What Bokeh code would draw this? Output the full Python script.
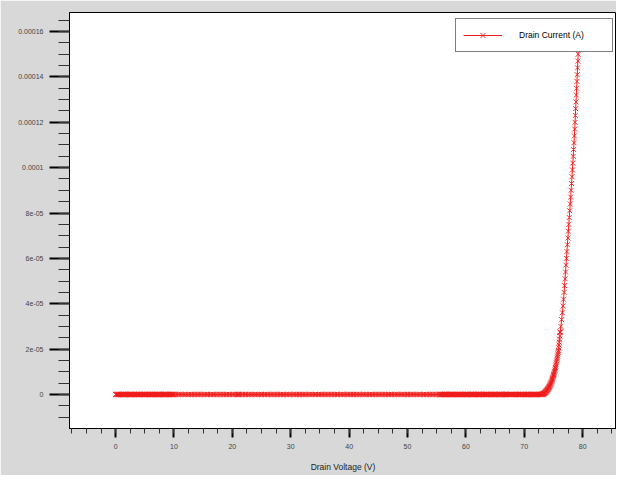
from bokeh.plotting import figure
from bokeh.models import (SingleIntervalTicker, CustomJSTickFormatter, Legend,
                          LegendItem, Range1d)
from bokeh.embed import file_html
from bokeh.resources import INLINE

# ---------------- data ----------------
# Drain voltage sweep (V) where the drain current stays at 0 A
flat_voltage_a = [
    0.0, 0.1, 0.2, 0.3, 0.4, 0.5, 0.6, 0.7, 0.8, 0.9,
    1.0, 1.1, 1.2, 1.3, 1.4, 1.5, 1.6, 1.7, 1.8, 1.9,
    2.0, 2.1, 2.2, 2.3, 2.4, 2.5, 2.6, 2.7, 2.8, 2.9,
    3.0, 3.1, 3.2, 3.3, 3.4, 3.5, 3.6, 3.7, 3.8, 3.9,
    4.0, 4.1, 4.2, 4.3, 4.4, 4.5, 4.6, 4.7, 4.8, 4.9,
    5.0, 5.1, 5.2, 5.3, 5.4, 5.5, 5.6, 5.7, 5.8, 5.9,
    6.0, 6.1, 6.2, 6.3, 6.4, 6.5, 6.6, 6.7, 6.8, 6.9,
    7.0, 7.1, 7.2, 7.3, 7.4, 7.5, 7.6, 7.7, 7.8, 7.9,
    8.0, 8.1, 8.2, 8.3, 8.4, 8.5, 8.6, 8.7, 8.8, 8.9,
    9.0, 9.1, 9.2, 9.3, 9.4, 9.5, 9.6, 9.7, 9.8, 9.9,
    10.0,
]
flat_voltage_b = [
    10.25, 10.5, 10.75, 11.0, 11.25, 11.5, 11.75, 12.0, 12.25, 12.5, 12.75,
    13.0, 13.25, 13.5, 13.75, 14.0, 14.25, 14.5, 14.75, 15.0, 15.25, 15.5, 15.75,
    16.0, 16.25, 16.5, 16.75, 17.0, 17.25, 17.5, 17.75, 18.0, 18.25, 18.5, 18.75,
    19.0, 19.25, 19.5, 19.75, 20.0, 20.25, 20.5, 20.75, 20.95, 21.0, 21.0, 21.05,
    21.25, 21.5, 21.75, 22.0, 22.25, 22.5, 22.75, 23.0, 23.25, 23.5, 23.75,
    24.0, 24.25, 24.5, 24.75, 25.0, 25.25, 25.5, 25.75, 26.0, 26.25, 26.5, 26.75,
    27.0, 27.25, 27.5, 27.75, 28.0, 28.25, 28.5, 28.75, 29.0, 29.25, 29.5, 29.75,
    30.0, 30.25, 30.5, 30.75, 31.0, 31.25, 31.5, 31.75, 32.0, 32.25, 32.5, 32.75,
    33.0, 33.25, 33.5, 33.75, 34.0, 34.25, 34.5, 34.75, 35.0, 35.25, 35.5, 35.75,
    36.0, 36.25, 36.5, 36.75, 37.0, 37.25, 37.5, 37.75, 38.0, 38.25, 38.5, 38.75,
    39.0, 39.25, 39.5, 39.75, 40.0, 40.25, 40.5, 40.75, 41.0, 41.25, 41.5, 41.75,
    42.0, 42.25, 42.5, 42.75, 43.0, 43.25, 43.5, 43.75, 44.0, 44.25, 44.5, 44.75,
    45.0, 45.25, 45.5, 45.75, 46.0, 46.25, 46.5, 46.75, 47.0, 47.25, 47.5, 47.75,
    48.0, 48.25, 48.5, 48.75, 49.0, 49.25, 49.5, 49.75, 50.0, 50.25, 50.5, 50.75,
    51.0, 51.25, 51.5, 51.75, 52.0, 52.25, 52.5, 52.75, 53.0, 53.25, 53.5, 53.75,
    54.0, 54.25, 54.5, 54.75, 55.0, 55.25, 55.5,
]
flat_voltage_c = [
    55.6, 55.7, 55.8, 55.9, 56.0, 56.1, 56.2, 56.3, 56.4, 56.5, 56.6, 56.7, 56.8, 56.9,
    57.0, 57.1, 57.2, 57.3, 57.4, 57.5, 57.6, 57.7, 57.8, 57.9,
    58.0, 58.1, 58.2, 58.3, 58.4, 58.5, 58.6, 58.7, 58.8, 58.9,
    59.0, 59.1, 59.2, 59.3, 59.4, 59.5, 59.6, 59.7, 59.8, 59.9,
    60.0, 60.1, 60.2, 60.3, 60.4, 60.5, 60.6, 60.7, 60.8, 60.9,
    61.0, 61.1, 61.2, 61.3, 61.4, 61.5, 61.6, 61.7, 61.8, 61.9,
    62.0, 62.1, 62.2, 62.3, 62.4, 62.5, 62.6, 62.7, 62.8, 62.9,
    63.0, 63.1, 63.2, 63.3, 63.4, 63.5, 63.6, 63.7, 63.8, 63.9,
    64.0, 64.1, 64.2, 64.3, 64.4, 64.5, 64.6, 64.7, 64.8, 64.9,
    65.0, 65.1, 65.2, 65.3, 65.4, 65.5, 65.6, 65.7, 65.8, 65.9,
    66.0, 66.1, 66.2, 66.3, 66.4, 66.5, 66.6, 66.7, 66.8, 66.9,
    67.0, 67.1, 67.2, 67.3, 67.4, 67.5, 67.6, 67.7, 67.8, 67.9,
    68.0, 68.1, 68.2, 68.3, 68.4, 68.5, 68.6, 68.7, 68.8, 68.9,
    69.0, 69.1, 69.2, 69.3, 69.4, 69.5, 69.6, 69.7, 69.8, 69.9,
    70.0, 70.1, 70.2, 70.3, 70.4, 70.5, 70.6, 70.7, 70.8, 70.9,
    71.0, 71.1, 71.2, 71.3, 71.4, 71.5, 71.6, 71.7, 71.8, 71.9,
    72.0, 72.1, 72.2, 72.3, 72.4, 72.5, 72.6, 72.7, 72.8, 72.9,
    73.0,
]
flat_current = 0.0  # A

# Breakdown knee and rise (V, A)
knee_voltage = [
    73.05, 73.10, 73.15, 73.20, 73.25, 73.30, 73.35, 73.40, 73.45, 73.50,
    73.55, 73.60, 73.65, 73.70, 73.75, 73.80, 73.85, 73.90, 73.95, 74.00,
    74.05, 74.10, 74.15, 74.20, 74.25, 74.30, 74.35, 74.40, 74.45, 74.50,
    74.55, 74.60, 74.65, 74.70, 74.75, 74.80, 74.85, 74.90, 74.95, 75.00,
    75.05, 75.10, 75.15, 75.20, 75.25, 75.30, 75.35, 75.40, 75.45, 75.50,
    75.55, 75.60, 75.65, 75.70, 75.75, 75.80, 75.85, 75.90, 75.95, 76.00,
    76.05, 76.10, 76.15, 76.15, 76.16,
]
knee_current = [
    0.05e-6, 0.1e-6, 0.15e-6, 0.2e-6, 0.3e-6, 0.35e-6, 0.45e-6, 0.5e-6, 0.6e-6, 0.7e-6,
    0.8e-6, 0.95e-6, 1.1e-6, 1.2e-6, 1.35e-6, 1.5e-6, 1.65e-6, 1.85e-6, 2.0e-6, 2.2e-6,
    2.4e-6, 2.6e-6, 2.8e-6, 3.0e-6, 3.25e-6, 3.5e-6, 3.75e-6, 4.0e-6, 4.3e-6, 4.6e-6,
    4.9e-6, 5.2e-6, 5.55e-6, 5.9e-6, 6.3e-6, 6.7e-6, 7.1e-6, 7.5e-6, 7.9e-6, 8.3e-6,
    8.7e-6, 9.1e-6, 9.65e-6, 10.2e-6, 10.8e-6, 11.4e-6, 11.9e-6, 12.5e-6, 13.2e-6, 14.0e-6,
    14.7e-6, 15.5e-6, 16.2e-6, 17.0e-6, 17.8e-6, 18.6e-6, 19.4e-6, 20.6e-6, 21.8e-6, 23.0e-6,
    24.4e-6, 25.8e-6, 27.4e-6, 27.4e-6, 27.6e-6,
]
rise_voltage = [
    76.27, 76.41, 76.53, 76.63, 76.73, 76.83, 76.91, 76.99, 77.07, 77.15,
    77.23, 77.31, 77.39, 77.47, 77.55, 77.63, 77.71, 77.79, 77.87, 77.95,
    78.03, 78.10, 78.18, 78.25, 78.32, 78.39, 78.45, 78.52, 78.58, 78.64,
    78.70, 78.75, 78.81, 78.86, 78.92, 78.97, 79.02, 79.08, 79.13, 79.18,
    79.23, 79.27, 79.32, 79.36, 79.41,
]
rise_current = [
    30e-6, 33e-6, 36e-6, 39e-6, 42e-6, 45e-6, 48e-6, 51e-6, 54e-6, 57e-6,
    60e-6, 63e-6, 66e-6, 69e-6, 72e-6, 75e-6, 78e-6, 81e-6, 84e-6, 87e-6,
    90e-6, 93e-6, 96e-6, 99e-6, 102e-6, 105e-6, 108e-6, 111e-6, 114e-6, 117e-6,
    120e-6, 123e-6, 126e-6, 129e-6, 132e-6, 135e-6, 138e-6, 141e-6, 144e-6, 147e-6,
    150e-6, 153e-6, 156e-6, 159e-6, 162e-6,
]

y_tick_values = [0.0, 2e-5, 4e-5, 6e-5, 8e-5, 1e-4, 1.2e-4, 1.4e-4, 1.6e-4]
y_tick_labels = ["0", "2e-05", "4e-05", "6e-05", "8e-05", "0.0001",
                 "0.00012", "0.00014", "0.00016"]
series_name = "Drain Current (A)"
x_title = "Drain Voltage (V)"

# ---------------- assemble series ----------------
flat_voltage = flat_voltage_a + flat_voltage_b + flat_voltage_c
voltage = flat_voltage + knee_voltage + rise_voltage
current = [flat_current] * len(flat_voltage) + knee_current + rise_current

RED = "#f01c1c"
FONT = "Liberation Sans"

p = figure(width=616, height=475, output_backend="svg", toolbar_location=None,
           x_range=Range1d(-7.9, 85.8), y_range=Range1d(-1.5e-5, 1.684e-4),
           min_border_left=69, min_border_right=0, min_border_top=12,
           min_border_bottom=47)
p.background_fill_color = "white"
p.border_fill_color = "#d8d8d8"
p.outline_line_color = "black"
p.outline_line_width = 1
p.grid.visible = False

ln = p.line(voltage, current, line_color=RED, line_alpha=1.0, line_width=1)
sc = p.scatter(voltage, current, marker="x", size=7, line_color=RED,
               line_alpha=0.9, line_width=1)

# axes
xa = p.xaxis[0]
xa.ticker = SingleIntervalTicker(interval=10, num_minor_ticks=4)
xa.major_tick_out = 9
xa.major_tick_in = 0
xa.minor_tick_out = 5
xa.minor_tick_in = 0
xa.major_tick_line_width = 2
xa.major_label_standoff = 6
xa.axis_label = x_title
xa.axis_label_standoff = 10
xa.axis_label_text_font_size = "8.5px"
xa.axis_label_text_font_style = "normal"
xa.axis_label_text_font = FONT
xa.axis_label_text_color = "#222222"

ya = p.yaxis[0]
ya.ticker = SingleIntervalTicker(interval=2e-5, num_minor_ticks=4)
ya.formatter = CustomJSTickFormatter(
    args=dict(vals=y_tick_values, labs=y_tick_labels),
    code="""
for (let i = 0; i < vals.length; i++) {
  if (Math.abs(tick - vals[i]) < 1e-10) { return labs[i]; }
}
return "";
""")
ya.major_tick_out = 20
ya.major_tick_in = 0
ya.minor_tick_out = 11
ya.minor_tick_in = 0
ya.major_tick_line_width = 2
ya.major_label_standoff = 6

for ax in (xa, ya):
    ax.axis_line_color = "black"
    ax.major_tick_line_color = "black"
    ax.minor_tick_line_color = "#333333"
    ax.major_label_text_font_size = "7px"
    ax.major_label_text_font = FONT
    ax.major_label_text_color = "#444444"

legend = Legend(items=[LegendItem(label=series_name, renderers=[ln, sc])],
                location=(386, 376), padding=7, spacing=0,
                glyph_width=39, glyph_height=18, label_height=18,
                label_width=86, label_standoff=17,
                label_text_font=FONT, label_text_font_size="8.5px",
                label_text_color="black",
                border_line_color="black", border_line_width=1,
                background_fill_color="white", background_fill_alpha=1.0)
p.add_layout(legend)

open("out.html", "w").write(file_html(p, INLINE))
